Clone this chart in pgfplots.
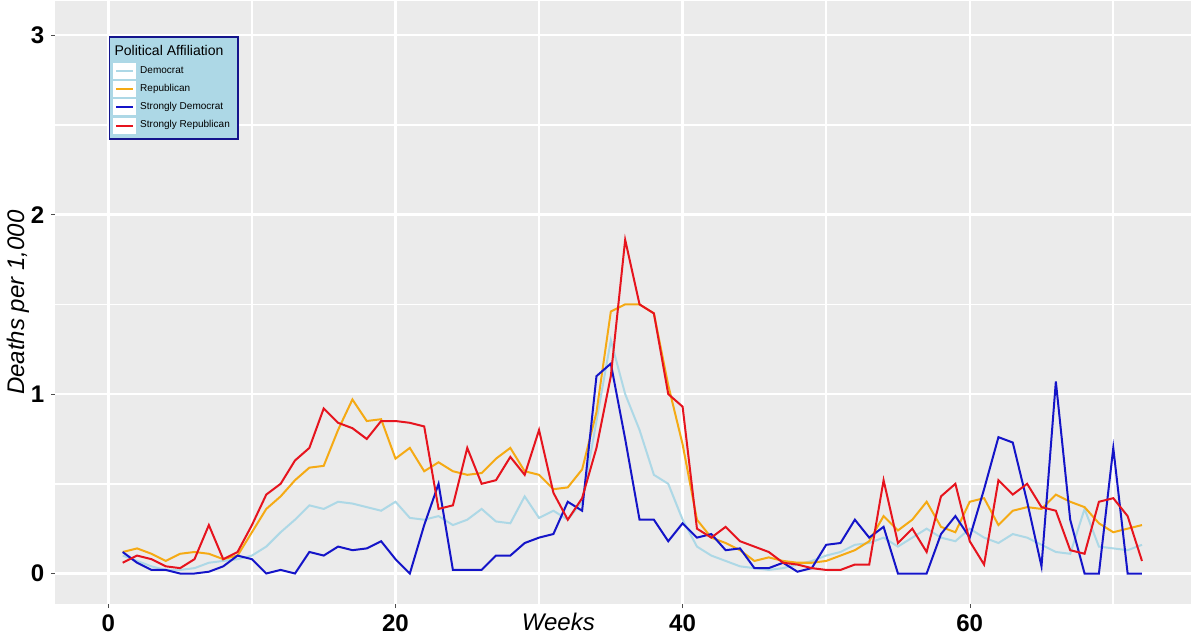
\documentclass[border=0pt]{standalone}
\usepackage{pgfplots}
\pgfplotsset{compat=1.18}
\usepackage{fontspec}
\setmainfont{Liberation Sans}
\definecolor{bg}{RGB}{235,235,235}
\definecolor{dem}{RGB}{173,216,230}
\definecolor{rep}{RGB}{245,170,20}
\definecolor{sdem}{RGB}{20,20,200}
\definecolor{srep}{RGB}{230,20,30}
\definecolor{legfill}{RGB}{173,216,230}
\definecolor{legdraw}{RGB}{20,20,140}
\begin{document}
\begin{tikzpicture}
\begin{axis}[
  scale only axis, width=567pt, height=301pt,
  xmin=-3.7, xmax=75.4, ymin=-0.17, ymax=3.19,
  axis background/.style={fill=bg}, axis line style={draw=none},
  xtick={0,20,40,60}, ytick={0,1,2,3},
  minor xtick={10,30,50,70}, minor ytick={0.5,1.5,2.5},
  grid=both, major grid style={white, line width=1.2pt}, minor grid style={white, line width=0.8pt},
  tick style={black!70}, major tick length=2pt, minor tick length=0pt,
  tick align=outside, tick pos=left,
  ticklabel style={font=\bfseries\large},
  /pgf/number format/assume math mode=true,
  xlabel={\textit{Weeks}}, xlabel style={at={(axis description cs:0.443,0)}, anchor=north, yshift=-1pt, font=\large},
  ylabel={\textit{Deaths per 1,000}}, ylabel style={font=\large, yshift=-6pt},
  legend style={at={(axis description cs:0.047,0.942)}, anchor=north west, fill=legfill, draw=legdraw, line width=0.8pt, font=\tiny, row sep=0pt, inner sep=2pt},
  legend cell align=left,
  legend image code/.code={\fill[white,draw=none] (-0.05cm,-0.14cm) rectangle (0.35cm,0.14cm); \draw[#1] (0cm,0cm) -- (0.3cm,0cm);},
  every axis plot/.append style={line width=1pt},
]
\addlegendimage{empty legend}
\addlegendentry{\hspace{-0.45cm}\scriptsize Political Affiliation}
\addplot[dem] coordinates {(1,.1)(2,.07)(3,.04)(4,.02)(5,.02)(6,.03)(7,.06)(8,.07)(9,.08)(10,.1)(11,.15)(12,.23)(13,.3)(14,.38)(15,.36)(16,.4)(17,.39)(18,.37)(19,.35)(20,.4)(21,.31)(22,.3)(23,.32)(24,.27)(25,.3)(26,.36)(27,.29)(28,.28)(29,.43)(30,.31)(31,.35)(32,.3)(33,.4)(34,.85)(35,1.3)(36,1.0)(37,.8)(38,.55)(39,.5)(40,.3)(41,.15)(42,.1)(43,.07)(44,.04)(45,.03)(46,.02)(47,.03)(48,.05)(49,.07)(50,.1)(51,.12)(52,.16)(53,.17)(54,.2)(55,.15)(56,.2)(57,.25)(58,.2)(59,.18)(60,.25)(61,.2)(62,.17)(63,.22)(64,.2)(65,.16)(66,.12)(67,.11)(68,.36)(69,.15)(70,.14)(71,.13)(72,.16)};
\addlegendentry{Democrat}
\addplot[rep] coordinates {(1,.12)(2,.14)(3,.11)(4,.07)(5,.11)(6,.12)(7,.11)(8,.08)(9,.1)(10,.23)(11,.36)(12,.43)(13,.52)(14,.59)(15,.6)(16,.8)(17,.97)(18,.85)(19,.86)(20,.64)(21,.7)(22,.57)(23,.62)(24,.57)(25,.55)(26,.56)(27,.64)(28,.7)(29,.57)(30,.55)(31,.47)(32,.48)(33,.58)(34,.9)(35,1.46)(36,1.5)(37,1.5)(38,1.45)(39,1.05)(40,.72)(41,.3)(42,.2)(43,.17)(44,.13)(45,.07)(46,.09)(47,.07)(48,.06)(49,.06)(50,.07)(51,.1)(52,.13)(53,.18)(54,.32)(55,.24)(56,.3)(57,.4)(58,.26)(59,.23)(60,.4)(61,.42)(62,.27)(63,.35)(64,.37)(65,.36)(66,.44)(67,.4)(68,.37)(69,.28)(70,.23)(71,.25)(72,.27)};
\addlegendentry{Republican}
\addplot[sdem] coordinates {(1,.12)(2,.06)(3,.02)(4,.02)(5,0)(6,0)(7,.01)(8,.04)(9,.1)(10,.08)(11,0)(12,.02)(13,0)(14,.12)(15,.1)(16,.15)(17,.13)(18,.14)(19,.18)(20,.08)(21,0)(22,.27)(23,.5)(24,.02)(25,.02)(26,.02)(27,.1)(28,.1)(29,.17)(30,.2)(31,.22)(32,.4)(33,.35)(34,1.1)(35,1.17)(36,.75)(37,.3)(38,.3)(39,.18)(40,.28)(41,.2)(42,.22)(43,.13)(44,.14)(45,.03)(46,.03)(47,.06)(48,.01)(49,.03)(50,.16)(51,.17)(52,.3)(53,.2)(54,.26)(55,0)(56,0)(57,0)(58,.22)(59,.32)(60,.2)(61,.47)(62,.76)(63,.73)(64,.4)(65,.04)(66,1.07)(67,.3)(68,0)(69,0)(70,.7)(71,0)(72,0)};
\addlegendentry{Strongly Democrat}
\addplot[srep] coordinates {(1,.06)(2,.1)(3,.08)(4,.04)(5,.03)(6,.08)(7,.27)(8,.08)(9,.12)(10,.27)(11,.44)(12,.5)(13,.63)(14,.7)(15,.92)(16,.84)(17,.81)(18,.75)(19,.85)(20,.85)(21,.84)(22,.82)(23,.36)(24,.38)(25,.7)(26,.5)(27,.52)(28,.65)(29,.55)(30,.8)(31,.45)(32,.3)(33,.42)(34,.7)(35,1.1)(36,1.86)(37,1.5)(38,1.45)(39,1.0)(40,.93)(41,.25)(42,.2)(43,.26)(44,.18)(45,.15)(46,.12)(47,.06)(48,.05)(49,.03)(50,.02)(51,.02)(52,.05)(53,.05)(54,.52)(55,.17)(56,.25)(57,.12)(58,.43)(59,.5)(60,.18)(61,.05)(62,.52)(63,.44)(64,.5)(65,.37)(66,.35)(67,.13)(68,.11)(69,.4)(70,.42)(71,.32)(72,.07)};
\addlegendentry{Strongly Republican}
\end{axis}
\end{tikzpicture}
\end{document}
